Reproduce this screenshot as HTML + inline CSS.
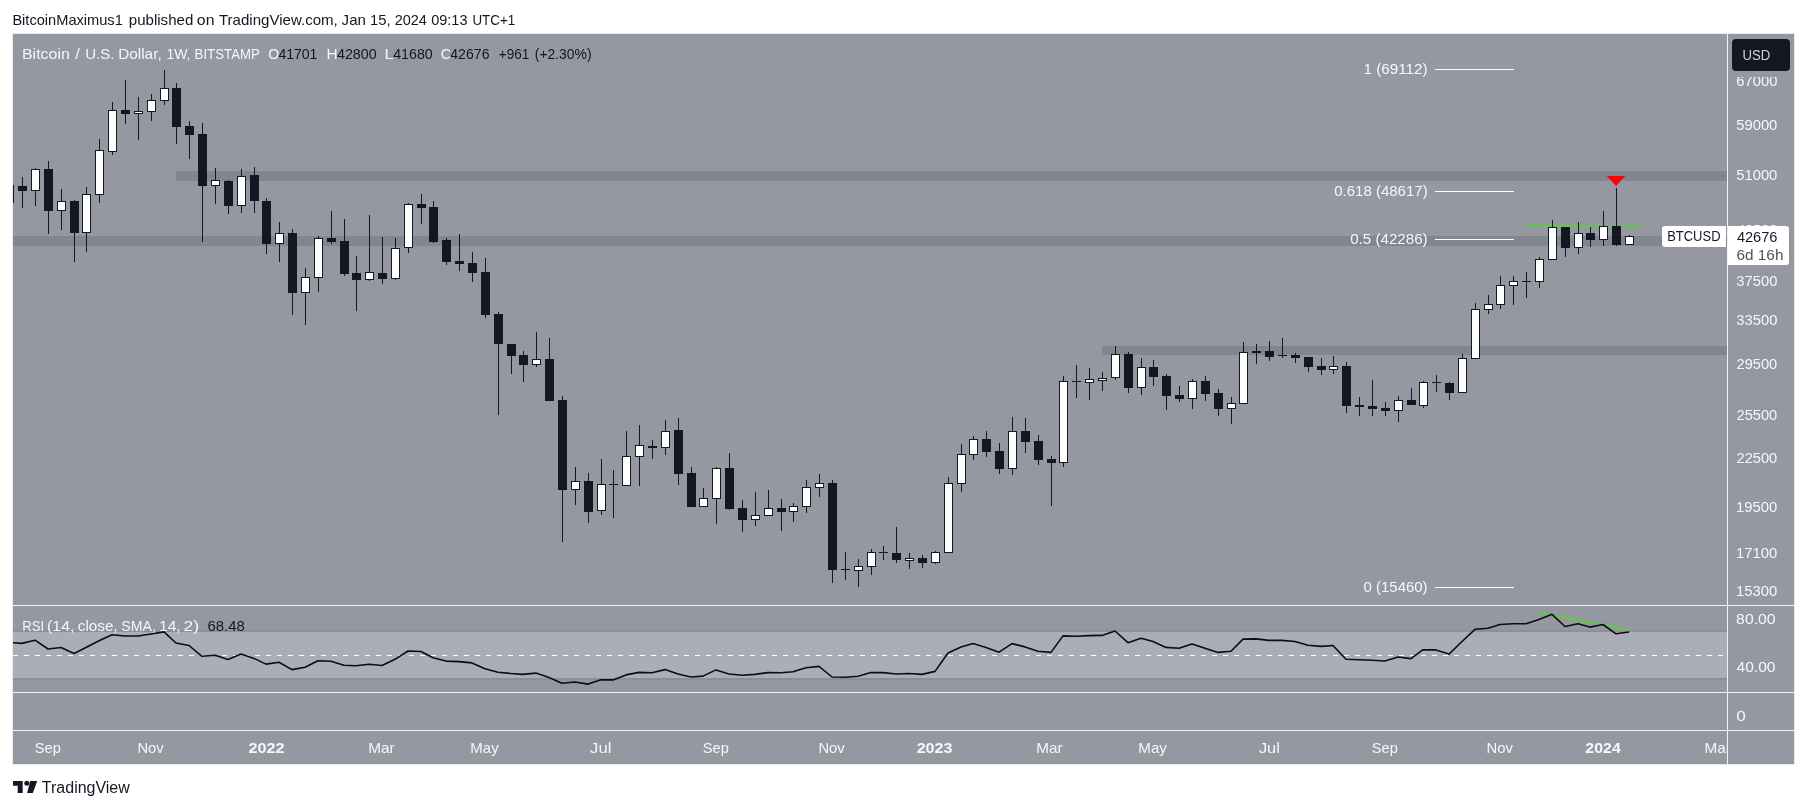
<!DOCTYPE html>
<html><head><meta charset="utf-8">
<style>
html,body{margin:0;padding:0;background:#fff;width:1807px;height:809px;overflow:hidden;font-family:"Liberation Sans",sans-serif;}
#chart{position:absolute;left:13px;top:34px;width:1781px;height:730px;background:#9598a1;overflow:hidden;box-shadow:0 0 0 1px #e9ebf0;}
.sep{position:absolute;background:#f0f3fa;}
svg text{font-family:"Liberation Sans",sans-serif;}
</style></head><body>
<div id="chart">
<svg width="1714" height="571" style="position:absolute;left:0;top:0" shape-rendering="crispEdges">
<rect x="163.00" y="137.00" width="1551.00" height="10.00" fill="#82868f" />
<rect x="0.00" y="202.00" width="1714.00" height="10.00" fill="#82868f" />
<rect x="1089.00" y="312.00" width="625.00" height="9.00" fill="#82868f" />
<line x1="1513" y1="191.4" x2="1629" y2="193.2" stroke="#4ade1e" stroke-width="1.5" shape-rendering="auto"/>
<rect x="1422.00" y="35.00" width="79.00" height="1.00" fill="#ffffff" />
<rect x="1422.00" y="157.00" width="79.00" height="1.00" fill="#ffffff" />
<rect x="1422.00" y="205.00" width="79.00" height="1.00" fill="#ffffff" />
<rect x="1422.00" y="553.00" width="79.00" height="1.00" fill="#ffffff" />
<rect x="-4.00" y="151.00" width="1.00" height="18.00" fill="#131722" />
<rect x="-8.00" y="151.00" width="9.00" height="18.00" fill="#131722" />
<rect x="9.00" y="143.00" width="1.00" height="31.00" fill="#131722" />
<rect x="5.00" y="152.00" width="9.00" height="5.00" fill="#131722" />
<rect x="22.00" y="134.00" width="1.00" height="38.00" fill="#131722" />
<rect x="18.00" y="135.00" width="9.00" height="22.00" fill="#131722" />
<rect x="19.00" y="136.00" width="7.00" height="20.00" fill="#ffffff" />
<rect x="35.00" y="127.00" width="1.00" height="73.00" fill="#131722" />
<rect x="31.00" y="135.00" width="9.00" height="42.00" fill="#131722" />
<rect x="48.00" y="155.00" width="1.00" height="41.00" fill="#131722" />
<rect x="44.00" y="167.00" width="9.00" height="10.00" fill="#131722" />
<rect x="45.00" y="168.00" width="7.00" height="8.00" fill="#ffffff" />
<rect x="61.00" y="166.00" width="1.00" height="62.00" fill="#131722" />
<rect x="57.00" y="167.00" width="9.00" height="32.00" fill="#131722" />
<rect x="73.00" y="153.00" width="1.00" height="65.00" fill="#131722" />
<rect x="69.00" y="160.00" width="9.00" height="39.00" fill="#131722" />
<rect x="70.00" y="161.00" width="7.00" height="37.00" fill="#ffffff" />
<rect x="86.00" y="105.00" width="1.00" height="64.00" fill="#131722" />
<rect x="82.00" y="116.00" width="9.00" height="45.00" fill="#131722" />
<rect x="83.00" y="117.00" width="7.00" height="43.00" fill="#ffffff" />
<rect x="99.00" y="68.00" width="1.00" height="53.00" fill="#131722" />
<rect x="95.00" y="76.00" width="9.00" height="42.00" fill="#131722" />
<rect x="96.00" y="77.00" width="7.00" height="40.00" fill="#ffffff" />
<rect x="112.00" y="46.00" width="1.00" height="44.00" fill="#131722" />
<rect x="108.00" y="76.00" width="9.00" height="4.00" fill="#131722" />
<rect x="125.00" y="63.00" width="1.00" height="43.00" fill="#131722" />
<rect x="121.00" y="77.00" width="9.00" height="3.00" fill="#131722" />
<rect x="122.00" y="78.00" width="7.00" height="1.00" fill="#ffffff" />
<rect x="138.00" y="60.00" width="1.00" height="27.00" fill="#131722" />
<rect x="134.00" y="66.00" width="9.00" height="12.00" fill="#131722" />
<rect x="135.00" y="67.00" width="7.00" height="10.00" fill="#ffffff" />
<rect x="151.00" y="36.00" width="1.00" height="35.00" fill="#131722" />
<rect x="147.00" y="54.00" width="9.00" height="13.00" fill="#131722" />
<rect x="148.00" y="55.00" width="7.00" height="11.00" fill="#ffffff" />
<rect x="163.00" y="49.00" width="1.00" height="61.00" fill="#131722" />
<rect x="159.00" y="54.00" width="9.00" height="39.00" fill="#131722" />
<rect x="176.00" y="87.00" width="1.00" height="38.00" fill="#131722" />
<rect x="172.00" y="92.00" width="9.00" height="9.00" fill="#131722" />
<rect x="189.00" y="89.00" width="1.00" height="119.00" fill="#131722" />
<rect x="185.00" y="100.00" width="9.00" height="52.00" fill="#131722" />
<rect x="202.00" y="134.00" width="1.00" height="36.00" fill="#131722" />
<rect x="198.00" y="146.00" width="9.00" height="6.00" fill="#131722" />
<rect x="199.00" y="147.00" width="7.00" height="4.00" fill="#ffffff" />
<rect x="215.00" y="146.00" width="1.00" height="34.00" fill="#131722" />
<rect x="211.00" y="147.00" width="9.00" height="25.00" fill="#131722" />
<rect x="228.00" y="135.00" width="1.00" height="44.00" fill="#131722" />
<rect x="224.00" y="142.00" width="9.00" height="30.00" fill="#131722" />
<rect x="225.00" y="143.00" width="7.00" height="28.00" fill="#ffffff" />
<rect x="241.00" y="133.00" width="1.00" height="46.00" fill="#131722" />
<rect x="237.00" y="141.00" width="9.00" height="26.00" fill="#131722" />
<rect x="253.00" y="164.00" width="1.00" height="56.00" fill="#131722" />
<rect x="249.00" y="167.00" width="9.00" height="43.00" fill="#131722" />
<rect x="266.00" y="188.00" width="1.00" height="40.00" fill="#131722" />
<rect x="262.00" y="199.00" width="9.00" height="11.00" fill="#131722" />
<rect x="263.00" y="200.00" width="7.00" height="9.00" fill="#ffffff" />
<rect x="279.00" y="195.00" width="1.00" height="86.00" fill="#131722" />
<rect x="275.00" y="199.00" width="9.00" height="60.00" fill="#131722" />
<rect x="292.00" y="234.00" width="1.00" height="57.00" fill="#131722" />
<rect x="288.00" y="243.00" width="9.00" height="16.00" fill="#131722" />
<rect x="289.00" y="244.00" width="7.00" height="14.00" fill="#ffffff" />
<rect x="305.00" y="202.00" width="1.00" height="56.00" fill="#131722" />
<rect x="301.00" y="204.00" width="9.00" height="40.00" fill="#131722" />
<rect x="302.00" y="205.00" width="7.00" height="38.00" fill="#ffffff" />
<rect x="318.00" y="177.00" width="1.00" height="33.00" fill="#131722" />
<rect x="314.00" y="204.00" width="9.00" height="4.00" fill="#131722" />
<rect x="331.00" y="185.00" width="1.00" height="57.00" fill="#131722" />
<rect x="327.00" y="207.00" width="9.00" height="33.00" fill="#131722" />
<rect x="343.00" y="222.00" width="1.00" height="55.00" fill="#131722" />
<rect x="339.00" y="239.00" width="9.00" height="7.00" fill="#131722" />
<rect x="356.00" y="181.00" width="1.00" height="66.00" fill="#131722" />
<rect x="352.00" y="238.00" width="9.00" height="8.00" fill="#131722" />
<rect x="353.00" y="239.00" width="7.00" height="6.00" fill="#ffffff" />
<rect x="369.00" y="203.00" width="1.00" height="47.00" fill="#131722" />
<rect x="365.00" y="239.00" width="9.00" height="6.00" fill="#131722" />
<rect x="382.00" y="204.00" width="1.00" height="42.00" fill="#131722" />
<rect x="378.00" y="214.00" width="9.00" height="31.00" fill="#131722" />
<rect x="379.00" y="215.00" width="7.00" height="29.00" fill="#ffffff" />
<rect x="395.00" y="169.00" width="1.00" height="50.00" fill="#131722" />
<rect x="391.00" y="170.00" width="9.00" height="44.00" fill="#131722" />
<rect x="392.00" y="171.00" width="7.00" height="42.00" fill="#ffffff" />
<rect x="408.00" y="160.00" width="1.00" height="30.00" fill="#131722" />
<rect x="404.00" y="170.00" width="9.00" height="4.00" fill="#131722" />
<rect x="420.00" y="167.00" width="1.00" height="42.00" fill="#131722" />
<rect x="416.00" y="173.00" width="9.00" height="35.00" fill="#131722" />
<rect x="433.00" y="204.00" width="1.00" height="27.00" fill="#131722" />
<rect x="429.00" y="206.00" width="9.00" height="22.00" fill="#131722" />
<rect x="446.00" y="200.00" width="1.00" height="37.00" fill="#131722" />
<rect x="442.00" y="227.00" width="9.00" height="3.00" fill="#131722" />
<rect x="459.00" y="218.00" width="1.00" height="30.00" fill="#131722" />
<rect x="455.00" y="229.00" width="9.00" height="10.00" fill="#131722" />
<rect x="472.00" y="224.00" width="1.00" height="60.00" fill="#131722" />
<rect x="468.00" y="238.00" width="9.00" height="43.00" fill="#131722" />
<rect x="485.00" y="278.00" width="1.00" height="103.00" fill="#131722" />
<rect x="481.00" y="280.00" width="9.00" height="30.00" fill="#131722" />
<rect x="498.00" y="310.00" width="1.00" height="30.00" fill="#131722" />
<rect x="494.00" y="310.00" width="9.00" height="12.00" fill="#131722" />
<rect x="510.00" y="317.00" width="1.00" height="31.00" fill="#131722" />
<rect x="506.00" y="321.00" width="9.00" height="10.00" fill="#131722" />
<rect x="523.00" y="298.00" width="1.00" height="35.00" fill="#131722" />
<rect x="519.00" y="325.00" width="9.00" height="6.00" fill="#131722" />
<rect x="520.00" y="326.00" width="7.00" height="4.00" fill="#ffffff" />
<rect x="536.00" y="304.00" width="1.00" height="63.00" fill="#131722" />
<rect x="532.00" y="325.00" width="9.00" height="42.00" fill="#131722" />
<rect x="549.00" y="362.00" width="1.00" height="146.00" fill="#131722" />
<rect x="545.00" y="366.00" width="9.00" height="90.00" fill="#131722" />
<rect x="562.00" y="433.00" width="1.00" height="38.00" fill="#131722" />
<rect x="558.00" y="447.00" width="9.00" height="9.00" fill="#131722" />
<rect x="559.00" y="448.00" width="7.00" height="7.00" fill="#ffffff" />
<rect x="575.00" y="439.00" width="1.00" height="50.00" fill="#131722" />
<rect x="571.00" y="447.00" width="9.00" height="31.00" fill="#131722" />
<rect x="588.00" y="425.00" width="1.00" height="56.00" fill="#131722" />
<rect x="584.00" y="450.00" width="9.00" height="27.00" fill="#131722" />
<rect x="585.00" y="451.00" width="7.00" height="25.00" fill="#ffffff" />
<rect x="600.00" y="436.00" width="1.00" height="48.00" fill="#131722" />
<rect x="596.00" y="450.00" width="9.00" height="1.00" fill="#131722" />
<rect x="613.00" y="397.00" width="1.00" height="55.00" fill="#131722" />
<rect x="609.00" y="422.00" width="9.00" height="30.00" fill="#131722" />
<rect x="610.00" y="423.00" width="7.00" height="28.00" fill="#ffffff" />
<rect x="626.00" y="391.00" width="1.00" height="61.00" fill="#131722" />
<rect x="622.00" y="411.00" width="9.00" height="12.00" fill="#131722" />
<rect x="623.00" y="412.00" width="7.00" height="10.00" fill="#ffffff" />
<rect x="639.00" y="406.00" width="1.00" height="19.00" fill="#131722" />
<rect x="635.00" y="412.00" width="9.00" height="2.00" fill="#131722" />
<rect x="652.00" y="386.00" width="1.00" height="35.00" fill="#131722" />
<rect x="648.00" y="397.00" width="9.00" height="17.00" fill="#131722" />
<rect x="649.00" y="398.00" width="7.00" height="15.00" fill="#ffffff" />
<rect x="665.00" y="384.00" width="1.00" height="67.00" fill="#131722" />
<rect x="661.00" y="396.00" width="9.00" height="44.00" fill="#131722" />
<rect x="678.00" y="433.00" width="1.00" height="40.00" fill="#131722" />
<rect x="674.00" y="439.00" width="9.00" height="34.00" fill="#131722" />
<rect x="690.00" y="454.00" width="1.00" height="19.00" fill="#131722" />
<rect x="686.00" y="464.00" width="9.00" height="9.00" fill="#131722" />
<rect x="687.00" y="465.00" width="7.00" height="7.00" fill="#ffffff" />
<rect x="703.00" y="433.00" width="1.00" height="57.00" fill="#131722" />
<rect x="699.00" y="434.00" width="9.00" height="31.00" fill="#131722" />
<rect x="700.00" y="435.00" width="7.00" height="29.00" fill="#ffffff" />
<rect x="716.00" y="419.00" width="1.00" height="57.00" fill="#131722" />
<rect x="712.00" y="434.00" width="9.00" height="41.00" fill="#131722" />
<rect x="729.00" y="466.00" width="1.00" height="32.00" fill="#131722" />
<rect x="725.00" y="474.00" width="9.00" height="12.00" fill="#131722" />
<rect x="742.00" y="458.00" width="1.00" height="34.00" fill="#131722" />
<rect x="738.00" y="481.00" width="9.00" height="5.00" fill="#131722" />
<rect x="739.00" y="482.00" width="7.00" height="3.00" fill="#ffffff" />
<rect x="755.00" y="456.00" width="1.00" height="26.00" fill="#131722" />
<rect x="751.00" y="474.00" width="9.00" height="8.00" fill="#131722" />
<rect x="752.00" y="475.00" width="7.00" height="6.00" fill="#ffffff" />
<rect x="768.00" y="465.00" width="1.00" height="32.00" fill="#131722" />
<rect x="764.00" y="474.00" width="9.00" height="4.00" fill="#131722" />
<rect x="780.00" y="469.00" width="1.00" height="19.00" fill="#131722" />
<rect x="776.00" y="472.00" width="9.00" height="6.00" fill="#131722" />
<rect x="777.00" y="473.00" width="7.00" height="4.00" fill="#ffffff" />
<rect x="793.00" y="446.00" width="1.00" height="33.00" fill="#131722" />
<rect x="789.00" y="453.00" width="9.00" height="20.00" fill="#131722" />
<rect x="790.00" y="454.00" width="7.00" height="18.00" fill="#ffffff" />
<rect x="806.00" y="440.00" width="1.00" height="23.00" fill="#131722" />
<rect x="802.00" y="449.00" width="9.00" height="5.00" fill="#131722" />
<rect x="803.00" y="450.00" width="7.00" height="3.00" fill="#ffffff" />
<rect x="819.00" y="446.00" width="1.00" height="103.00" fill="#131722" />
<rect x="815.00" y="449.00" width="9.00" height="87.00" fill="#131722" />
<rect x="832.00" y="518.00" width="1.00" height="28.00" fill="#131722" />
<rect x="828.00" y="535.00" width="9.00" height="1.00" fill="#131722" />
<rect x="845.00" y="525.00" width="1.00" height="28.00" fill="#131722" />
<rect x="841.00" y="532.00" width="9.00" height="5.00" fill="#131722" />
<rect x="842.00" y="533.00" width="7.00" height="3.00" fill="#ffffff" />
<rect x="858.00" y="515.00" width="1.00" height="26.00" fill="#131722" />
<rect x="854.00" y="518.00" width="9.00" height="15.00" fill="#131722" />
<rect x="855.00" y="519.00" width="7.00" height="13.00" fill="#ffffff" />
<rect x="870.00" y="512.00" width="1.00" height="14.00" fill="#131722" />
<rect x="866.00" y="518.00" width="9.00" height="1.00" fill="#131722" />
<rect x="883.00" y="493.00" width="1.00" height="36.00" fill="#131722" />
<rect x="879.00" y="519.00" width="9.00" height="7.00" fill="#131722" />
<rect x="896.00" y="519.00" width="1.00" height="16.00" fill="#131722" />
<rect x="892.00" y="524.00" width="9.00" height="3.00" fill="#131722" />
<rect x="893.00" y="525.00" width="7.00" height="1.00" fill="#ffffff" />
<rect x="909.00" y="521.00" width="1.00" height="13.00" fill="#131722" />
<rect x="905.00" y="524.00" width="9.00" height="5.00" fill="#131722" />
<rect x="922.00" y="517.00" width="1.00" height="13.00" fill="#131722" />
<rect x="918.00" y="518.00" width="9.00" height="11.00" fill="#131722" />
<rect x="919.00" y="519.00" width="7.00" height="9.00" fill="#ffffff" />
<rect x="935.00" y="443.00" width="1.00" height="76.00" fill="#131722" />
<rect x="931.00" y="449.00" width="9.00" height="70.00" fill="#131722" />
<rect x="932.00" y="450.00" width="7.00" height="68.00" fill="#ffffff" />
<rect x="948.00" y="410.00" width="1.00" height="48.00" fill="#131722" />
<rect x="944.00" y="420.00" width="9.00" height="30.00" fill="#131722" />
<rect x="945.00" y="421.00" width="7.00" height="28.00" fill="#ffffff" />
<rect x="960.00" y="402.00" width="1.00" height="24.00" fill="#131722" />
<rect x="956.00" y="405.00" width="9.00" height="16.00" fill="#131722" />
<rect x="957.00" y="406.00" width="7.00" height="14.00" fill="#ffffff" />
<rect x="973.00" y="397.00" width="1.00" height="26.00" fill="#131722" />
<rect x="969.00" y="405.00" width="9.00" height="13.00" fill="#131722" />
<rect x="986.00" y="409.00" width="1.00" height="31.00" fill="#131722" />
<rect x="982.00" y="417.00" width="9.00" height="18.00" fill="#131722" />
<rect x="999.00" y="383.00" width="1.00" height="58.00" fill="#131722" />
<rect x="995.00" y="397.00" width="9.00" height="38.00" fill="#131722" />
<rect x="996.00" y="398.00" width="7.00" height="36.00" fill="#ffffff" />
<rect x="1012.00" y="384.00" width="1.00" height="35.00" fill="#131722" />
<rect x="1008.00" y="397.00" width="9.00" height="11.00" fill="#131722" />
<rect x="1025.00" y="401.00" width="1.00" height="30.00" fill="#131722" />
<rect x="1021.00" y="407.00" width="9.00" height="19.00" fill="#131722" />
<rect x="1038.00" y="422.00" width="1.00" height="50.00" fill="#131722" />
<rect x="1034.00" y="425.00" width="9.00" height="4.00" fill="#131722" />
<rect x="1050.00" y="342.00" width="1.00" height="91.00" fill="#131722" />
<rect x="1046.00" y="347.00" width="9.00" height="82.00" fill="#131722" />
<rect x="1047.00" y="348.00" width="7.00" height="80.00" fill="#ffffff" />
<rect x="1063.00" y="331.00" width="1.00" height="33.00" fill="#131722" />
<rect x="1059.00" y="347.00" width="9.00" height="1.00" fill="#131722" />
<rect x="1076.00" y="334.00" width="1.00" height="32.00" fill="#131722" />
<rect x="1072.00" y="345.00" width="9.00" height="4.00" fill="#131722" />
<rect x="1073.00" y="346.00" width="7.00" height="2.00" fill="#ffffff" />
<rect x="1089.00" y="338.00" width="1.00" height="19.00" fill="#131722" />
<rect x="1085.00" y="344.00" width="9.00" height="3.00" fill="#131722" />
<rect x="1086.00" y="345.00" width="7.00" height="1.00" fill="#ffffff" />
<rect x="1102.00" y="312.00" width="1.00" height="34.00" fill="#131722" />
<rect x="1098.00" y="320.00" width="9.00" height="24.00" fill="#131722" />
<rect x="1099.00" y="321.00" width="7.00" height="22.00" fill="#ffffff" />
<rect x="1115.00" y="318.00" width="1.00" height="41.00" fill="#131722" />
<rect x="1111.00" y="320.00" width="9.00" height="34.00" fill="#131722" />
<rect x="1128.00" y="324.00" width="1.00" height="37.00" fill="#131722" />
<rect x="1124.00" y="333.00" width="9.00" height="21.00" fill="#131722" />
<rect x="1125.00" y="334.00" width="7.00" height="19.00" fill="#ffffff" />
<rect x="1140.00" y="326.00" width="1.00" height="26.00" fill="#131722" />
<rect x="1136.00" y="333.00" width="9.00" height="10.00" fill="#131722" />
<rect x="1153.00" y="340.00" width="1.00" height="36.00" fill="#131722" />
<rect x="1149.00" y="342.00" width="9.00" height="20.00" fill="#131722" />
<rect x="1166.00" y="352.00" width="1.00" height="16.00" fill="#131722" />
<rect x="1162.00" y="361.00" width="9.00" height="4.00" fill="#131722" />
<rect x="1179.00" y="345.00" width="1.00" height="30.00" fill="#131722" />
<rect x="1175.00" y="347.00" width="9.00" height="18.00" fill="#131722" />
<rect x="1176.00" y="348.00" width="7.00" height="16.00" fill="#ffffff" />
<rect x="1192.00" y="342.00" width="1.00" height="25.00" fill="#131722" />
<rect x="1188.00" y="347.00" width="9.00" height="13.00" fill="#131722" />
<rect x="1205.00" y="355.00" width="1.00" height="27.00" fill="#131722" />
<rect x="1201.00" y="359.00" width="9.00" height="16.00" fill="#131722" />
<rect x="1218.00" y="363.00" width="1.00" height="27.00" fill="#131722" />
<rect x="1214.00" y="369.00" width="9.00" height="6.00" fill="#131722" />
<rect x="1215.00" y="370.00" width="7.00" height="4.00" fill="#ffffff" />
<rect x="1230.00" y="308.00" width="1.00" height="62.00" fill="#131722" />
<rect x="1226.00" y="318.00" width="9.00" height="52.00" fill="#131722" />
<rect x="1227.00" y="319.00" width="7.00" height="50.00" fill="#ffffff" />
<rect x="1243.00" y="310.00" width="1.00" height="20.00" fill="#131722" />
<rect x="1239.00" y="317.00" width="9.00" height="2.00" fill="#131722" />
<rect x="1256.00" y="307.00" width="1.00" height="20.00" fill="#131722" />
<rect x="1252.00" y="317.00" width="9.00" height="6.00" fill="#131722" />
<rect x="1269.00" y="304.00" width="1.00" height="20.00" fill="#131722" />
<rect x="1265.00" y="321.00" width="9.00" height="1.00" fill="#131722" />
<rect x="1282.00" y="319.00" width="1.00" height="10.00" fill="#131722" />
<rect x="1278.00" y="321.00" width="9.00" height="3.00" fill="#131722" />
<rect x="1295.00" y="323.00" width="1.00" height="15.00" fill="#131722" />
<rect x="1291.00" y="323.00" width="9.00" height="10.00" fill="#131722" />
<rect x="1308.00" y="324.00" width="1.00" height="17.00" fill="#131722" />
<rect x="1304.00" y="332.00" width="9.00" height="4.00" fill="#131722" />
<rect x="1320.00" y="322.00" width="1.00" height="18.00" fill="#131722" />
<rect x="1316.00" y="332.00" width="9.00" height="4.00" fill="#131722" />
<rect x="1317.00" y="333.00" width="7.00" height="2.00" fill="#ffffff" />
<rect x="1333.00" y="328.00" width="1.00" height="51.00" fill="#131722" />
<rect x="1329.00" y="332.00" width="9.00" height="40.00" fill="#131722" />
<rect x="1346.00" y="363.00" width="1.00" height="19.00" fill="#131722" />
<rect x="1342.00" y="371.00" width="9.00" height="2.00" fill="#131722" />
<rect x="1359.00" y="346.00" width="1.00" height="36.00" fill="#131722" />
<rect x="1355.00" y="372.00" width="9.00" height="3.00" fill="#131722" />
<rect x="1372.00" y="368.00" width="1.00" height="14.00" fill="#131722" />
<rect x="1368.00" y="374.00" width="9.00" height="3.00" fill="#131722" />
<rect x="1385.00" y="362.00" width="1.00" height="26.00" fill="#131722" />
<rect x="1381.00" y="366.00" width="9.00" height="11.00" fill="#131722" />
<rect x="1382.00" y="367.00" width="7.00" height="9.00" fill="#ffffff" />
<rect x="1398.00" y="354.00" width="1.00" height="17.00" fill="#131722" />
<rect x="1394.00" y="366.00" width="9.00" height="5.00" fill="#131722" />
<rect x="1410.00" y="347.00" width="1.00" height="27.00" fill="#131722" />
<rect x="1406.00" y="348.00" width="9.00" height="24.00" fill="#131722" />
<rect x="1407.00" y="349.00" width="7.00" height="22.00" fill="#ffffff" />
<rect x="1423.00" y="341.00" width="1.00" height="17.00" fill="#131722" />
<rect x="1419.00" y="348.00" width="9.00" height="1.00" fill="#131722" />
<rect x="1436.00" y="348.00" width="1.00" height="18.00" fill="#131722" />
<rect x="1432.00" y="349.00" width="9.00" height="10.00" fill="#131722" />
<rect x="1449.00" y="320.00" width="1.00" height="39.00" fill="#131722" />
<rect x="1445.00" y="324.00" width="9.00" height="35.00" fill="#131722" />
<rect x="1446.00" y="325.00" width="7.00" height="33.00" fill="#ffffff" />
<rect x="1462.00" y="269.00" width="1.00" height="56.00" fill="#131722" />
<rect x="1458.00" y="275.00" width="9.00" height="50.00" fill="#131722" />
<rect x="1459.00" y="276.00" width="7.00" height="48.00" fill="#ffffff" />
<rect x="1475.00" y="261.00" width="1.00" height="19.00" fill="#131722" />
<rect x="1471.00" y="270.00" width="9.00" height="6.00" fill="#131722" />
<rect x="1472.00" y="271.00" width="7.00" height="4.00" fill="#ffffff" />
<rect x="1487.00" y="242.00" width="1.00" height="33.00" fill="#131722" />
<rect x="1483.00" y="251.00" width="9.00" height="20.00" fill="#131722" />
<rect x="1484.00" y="252.00" width="7.00" height="18.00" fill="#ffffff" />
<rect x="1500.00" y="242.00" width="1.00" height="29.00" fill="#131722" />
<rect x="1496.00" y="247.00" width="9.00" height="5.00" fill="#131722" />
<rect x="1497.00" y="248.00" width="7.00" height="3.00" fill="#ffffff" />
<rect x="1513.00" y="238.00" width="1.00" height="26.00" fill="#131722" />
<rect x="1509.00" y="247.00" width="9.00" height="1.00" fill="#131722" />
<rect x="1526.00" y="223.00" width="1.00" height="31.00" fill="#131722" />
<rect x="1522.00" y="225.00" width="9.00" height="23.00" fill="#131722" />
<rect x="1523.00" y="226.00" width="7.00" height="21.00" fill="#ffffff" />
<rect x="1539.00" y="186.00" width="1.00" height="40.00" fill="#131722" />
<rect x="1535.00" y="193.00" width="9.00" height="33.00" fill="#131722" />
<rect x="1536.00" y="194.00" width="7.00" height="31.00" fill="#ffffff" />
<rect x="1552.00" y="193.00" width="1.00" height="30.00" fill="#131722" />
<rect x="1548.00" y="193.00" width="9.00" height="21.00" fill="#131722" />
<rect x="1565.00" y="188.00" width="1.00" height="32.00" fill="#131722" />
<rect x="1561.00" y="199.00" width="9.00" height="15.00" fill="#131722" />
<rect x="1562.00" y="200.00" width="7.00" height="13.00" fill="#ffffff" />
<rect x="1577.00" y="193.00" width="1.00" height="20.00" fill="#131722" />
<rect x="1573.00" y="199.00" width="9.00" height="7.00" fill="#131722" />
<rect x="1590.00" y="177.00" width="1.00" height="35.00" fill="#131722" />
<rect x="1586.00" y="192.00" width="9.00" height="14.00" fill="#131722" />
<rect x="1587.00" y="193.00" width="7.00" height="12.00" fill="#ffffff" />
<rect x="1603.00" y="154.00" width="1.00" height="58.00" fill="#131722" />
<rect x="1599.00" y="192.00" width="9.00" height="19.00" fill="#131722" />
<rect x="1616.00" y="201.00" width="1.00" height="10.00" fill="#131722" />
<rect x="1612.00" y="202.00" width="9.00" height="9.00" fill="#131722" />
<rect x="1613.00" y="203.00" width="7.00" height="7.00" fill="#ffffff" />
<polygon points="1593.9,141.9 1612.2,141.9 1603.1,152" fill="#ff0000" shape-rendering="auto"/>
</svg>
<div class="sep" style="left:1714px;top:0;width:1px;height:730px"></div>
<div class="sep" style="left:0;top:571px;width:1781px;height:1px"></div>
<div class="sep" style="left:0;top:658px;width:1781px;height:1px"></div>
<div class="sep" style="left:0;top:696px;width:1781px;height:1px"></div>
<svg width="1714" height="86" style="position:absolute;left:0;top:572px">
<rect x="0" y="24" width="1714" height="50" fill="#abaeb6" shape-rendering="crispEdges"/><rect x="0" y="24" width="1714" height="2" fill="#8d9099" shape-rendering="crispEdges"/><rect x="0" y="72" width="1714" height="2" fill="#8c8f98" shape-rendering="crispEdges"/>
<line x1="0" y1="49.5" x2="1714" y2="49.5" stroke="#ffffff" stroke-width="1" stroke-dasharray="5 6" shape-rendering="crispEdges"/>
<line x1="1526" y1="6.7000000000000455" x2="1616" y2="24" stroke="#4ade1e" stroke-width="1.4"/>
<polyline points="-4.00,36.50 9.00,37.40 22.00,34.20 35.00,43.00 48.00,41.50 61.00,47.50 73.00,41.50 86.00,34.70 99.00,28.70 112.00,30.00 125.00,30.00 138.00,28.00 151.00,25.90 163.00,37.00 176.00,39.50 189.00,50.30 202.00,49.30 215.00,53.50 228.00,48.00 241.00,52.40 253.00,58.10 266.00,56.30 279.00,63.60 292.00,61.30 305.00,54.70 318.00,55.30 331.00,59.20 343.00,59.70 356.00,58.30 369.00,59.50 382.00,53.30 395.00,45.00 408.00,45.50 420.00,51.70 433.00,55.10 446.00,55.60 459.00,56.90 472.00,62.70 485.00,66.20 498.00,67.50 510.00,68.40 523.00,67.10 536.00,71.60 549.00,77.20 562.00,76.00 575.00,78.10 588.00,73.70 600.00,73.90 613.00,68.90 626.00,66.40 639.00,66.80 652.00,63.60 665.00,68.00 678.00,71.00 690.00,70.10 703.00,63.90 716.00,68.00 729.00,69.30 742.00,68.40 755.00,66.60 768.00,66.80 780.00,65.70 793.00,61.80 806.00,60.40 819.00,71.00 832.00,71.20 845.00,70.30 858.00,66.60 870.00,66.60 883.00,68.00 896.00,67.50 909.00,68.40 922.00,65.40 935.00,47.00 948.00,41.10 960.00,37.60 973.00,41.40 986.00,46.20 999.00,37.60 1012.00,40.90 1025.00,45.30 1038.00,46.40 1050.00,29.90 1063.00,30.30 1076.00,29.60 1089.00,29.40 1102.00,25.00 1115.00,36.70 1128.00,32.20 1140.00,35.60 1153.00,41.40 1166.00,42.30 1179.00,37.90 1192.00,42.30 1205.00,46.40 1218.00,45.30 1230.00,33.10 1243.00,32.90 1256.00,34.40 1269.00,34.40 1282.00,35.50 1295.00,39.30 1308.00,40.40 1320.00,39.50 1333.00,53.20 1346.00,53.70 1359.00,54.30 1372.00,55.00 1385.00,51.00 1398.00,52.60 1410.00,43.70 1423.00,43.90 1436.00,48.10 1449.00,35.50 1462.00,23.30 1475.00,22.20 1487.00,18.50 1500.00,17.80 1513.00,17.80 1526.00,13.40 1539.00,8.30 1552.00,20.50 1565.00,17.80 1577.00,21.10 1590.00,18.50 1603.00,27.80 1616.00,26.00" fill="none" stroke="#0b0d12" stroke-width="1.6" stroke-linejoin="round"/>
</svg>
</div>
<svg width="1807" height="809" style="position:absolute;left:0;top:0;will-change:transform">
<defs><clipPath id="cl"><rect x="13" y="34" width="1714" height="730"/></clipPath><clipPath id="c67"><rect x="1728" y="77" width="66" height="20"/></clipPath></defs>
<text x="12.38" y="25.00" font-size="14.8" fill="#131722" font-weight="normal" textLength="110.39" lengthAdjust="spacingAndGlyphs" >BitcoinMaximus1</text>
<text x="128.79" y="25.00" font-size="14.8" fill="#131722" font-weight="normal" textLength="64.49" lengthAdjust="spacingAndGlyphs" >published</text>
<text x="196.80" y="25.00" font-size="14.8" fill="#131722" font-weight="normal" textLength="17.68" lengthAdjust="spacingAndGlyphs" >on</text>
<text x="218.95" y="25.00" font-size="14.8" fill="#131722" font-weight="normal" textLength="118.84" lengthAdjust="spacingAndGlyphs" >TradingView.com,</text>
<text x="341.60" y="25.00" font-size="14.8" fill="#131722" font-weight="normal" textLength="24.36" lengthAdjust="spacingAndGlyphs" >Jan</text>
<text x="370.09" y="25.00" font-size="14.8" fill="#131722" font-weight="normal" textLength="20.55" lengthAdjust="spacingAndGlyphs" >15,</text>
<text x="394.71" y="25.00" font-size="14.8" fill="#131722" font-weight="normal" textLength="32.23" lengthAdjust="spacingAndGlyphs" >2024</text>
<text x="431.15" y="25.00" font-size="14.8" fill="#131722" font-weight="normal" textLength="36.36" lengthAdjust="spacingAndGlyphs" >09:13</text>
<text x="472.45" y="25.00" font-size="14.8" fill="#131722" font-weight="normal" textLength="42.71" lengthAdjust="spacingAndGlyphs" >UTC+1</text>
<text x="21.91" y="58.80" font-size="14.6" fill="#f6f7f9" font-weight="normal" textLength="48.03" lengthAdjust="spacingAndGlyphs" >Bitcoin</text>
<text x="75.33" y="58.80" font-size="14.6" fill="#f6f7f9" font-weight="normal" textLength="4.58" lengthAdjust="spacingAndGlyphs" >/</text>
<text x="85.20" y="58.80" font-size="14.6" fill="#f6f7f9" font-weight="normal" textLength="29.24" lengthAdjust="spacingAndGlyphs" >U.S.</text>
<text x="118.16" y="58.80" font-size="14.6" fill="#f6f7f9" font-weight="normal" textLength="43.52" lengthAdjust="spacingAndGlyphs" >Dollar,</text>
<text x="166.40" y="58.80" font-size="14.6" fill="#f6f7f9" font-weight="normal" textLength="24.12" lengthAdjust="spacingAndGlyphs" >1W,</text>
<text x="194.59" y="58.80" font-size="14.6" fill="#f6f7f9" font-weight="normal" textLength="65.26" lengthAdjust="spacingAndGlyphs" >BITSTAMP</text>
<text x="268.20" y="58.80" font-size="14.6" fill="#f6f7f9" font-weight="normal" textLength="10.88" lengthAdjust="spacingAndGlyphs" >O</text>
<text x="278.39" y="58.80" font-size="14.6" fill="#131722" font-weight="normal" textLength="39.03" lengthAdjust="spacingAndGlyphs" >41701</text>
<text x="326.52" y="58.80" font-size="14.6" fill="#f6f7f9" font-weight="normal" textLength="11.15" lengthAdjust="spacingAndGlyphs" >H</text>
<text x="336.91" y="58.80" font-size="14.6" fill="#131722" font-weight="normal" textLength="39.89" lengthAdjust="spacingAndGlyphs" >42800</text>
<text x="384.55" y="58.80" font-size="14.6" fill="#f6f7f9" font-weight="normal" textLength="9.25" lengthAdjust="spacingAndGlyphs" >L</text>
<text x="393.20" y="58.80" font-size="14.6" fill="#131722" font-weight="normal" textLength="39.60" lengthAdjust="spacingAndGlyphs" >41680</text>
<text x="440.81" y="58.80" font-size="14.6" fill="#f6f7f9" font-weight="normal" textLength="10.36" lengthAdjust="spacingAndGlyphs" >C</text>
<text x="450.21" y="58.80" font-size="14.6" fill="#131722" font-weight="normal" textLength="39.30" lengthAdjust="spacingAndGlyphs" >42676</text>
<text x="498.75" y="58.80" font-size="14.6" fill="#131722" font-weight="normal" textLength="30.56" lengthAdjust="spacingAndGlyphs" >+961</text>
<text x="534.80" y="58.80" font-size="14.6" fill="#131722" font-weight="normal" textLength="56.73" lengthAdjust="spacingAndGlyphs" >(+2.30%)</text>
<text x="1363.41" y="74.10" font-size="14.4" fill="#f6f7f9" font-weight="normal" textLength="64.31" lengthAdjust="spacingAndGlyphs" >1 (69112)</text>
<text x="1334.20" y="195.60" font-size="14.4" fill="#f6f7f9" font-weight="normal" textLength="93.46" lengthAdjust="spacingAndGlyphs" >0.618 (48617)</text>
<text x="1350.16" y="243.80" font-size="14.4" fill="#f6f7f9" font-weight="normal" textLength="77.49" lengthAdjust="spacingAndGlyphs" >0.5 (42286)</text>
<text x="1363.57" y="591.80" font-size="14.4" fill="#f6f7f9" font-weight="normal" textLength="64.01" lengthAdjust="spacingAndGlyphs" >0 (15460)</text>
<text x="22.13" y="631.00" font-size="14.6" fill="#f6f7f9" font-weight="normal" textLength="22.06" lengthAdjust="spacingAndGlyphs" >RSI</text>
<text x="47.05" y="631.00" font-size="14.6" fill="#f6f7f9" font-weight="normal" textLength="27.33" lengthAdjust="spacingAndGlyphs" >(14,</text>
<text x="77.77" y="631.00" font-size="14.6" fill="#f6f7f9" font-weight="normal" textLength="39.84" lengthAdjust="spacingAndGlyphs" >close,</text>
<text x="121.30" y="631.00" font-size="14.6" fill="#f6f7f9" font-weight="normal" textLength="34.53" lengthAdjust="spacingAndGlyphs" >SMA,</text>
<text x="158.99" y="631.00" font-size="14.6" fill="#f6f7f9" font-weight="normal" textLength="21.70" lengthAdjust="spacingAndGlyphs" >14,</text>
<text x="183.64" y="631.00" font-size="14.6" fill="#f6f7f9" font-weight="normal" textLength="15.60" lengthAdjust="spacingAndGlyphs" >2)</text>
<text x="207.50" y="631.00" font-size="14.6" fill="#131722" font-weight="normal" textLength="37.35" lengthAdjust="spacingAndGlyphs" >68.48</text>
<text x="41.87" y="792.90" font-size="15.8" fill="#131722" font-weight="normal" textLength="87.95" lengthAdjust="spacingAndGlyphs" >TradingView</text>
<text x="1736.35" y="85.90" font-size="14.4" fill="#f6f7f9" font-weight="normal" textLength="41.11" lengthAdjust="spacingAndGlyphs" clip-path="url(#c67)">67000</text>
<text x="1736.20" y="130.10" font-size="14.4" fill="#f6f7f9" font-weight="normal" textLength="41.17" lengthAdjust="spacingAndGlyphs" >59000</text>
<text x="1736.20" y="180.10" font-size="14.4" fill="#f6f7f9" font-weight="normal" textLength="41.17" lengthAdjust="spacingAndGlyphs" >51000</text>
<text x="1736.90" y="234.90" font-size="14.4" fill="#f6f7f9" font-weight="normal" textLength="40.43" lengthAdjust="spacingAndGlyphs" >43500</text>
<text x="1736.39" y="285.90" font-size="14.4" fill="#f6f7f9" font-weight="normal" textLength="41.05" lengthAdjust="spacingAndGlyphs" >37500</text>
<text x="1736.39" y="324.90" font-size="14.4" fill="#f6f7f9" font-weight="normal" textLength="41.05" lengthAdjust="spacingAndGlyphs" >33500</text>
<text x="1736.49" y="368.70" font-size="14.4" fill="#f6f7f9" font-weight="normal" textLength="40.76" lengthAdjust="spacingAndGlyphs" >29500</text>
<text x="1736.49" y="419.60" font-size="14.4" fill="#f6f7f9" font-weight="normal" textLength="40.76" lengthAdjust="spacingAndGlyphs" >25500</text>
<text x="1736.49" y="462.90" font-size="14.4" fill="#f6f7f9" font-weight="normal" textLength="40.76" lengthAdjust="spacingAndGlyphs" >22500</text>
<text x="1736.08" y="511.70" font-size="14.4" fill="#f6f7f9" font-weight="normal" textLength="41.23" lengthAdjust="spacingAndGlyphs" >19500</text>
<text x="1736.08" y="557.70" font-size="14.4" fill="#f6f7f9" font-weight="normal" textLength="41.23" lengthAdjust="spacingAndGlyphs" >17100</text>
<text x="1736.08" y="595.90" font-size="14.4" fill="#f6f7f9" font-weight="normal" textLength="41.23" lengthAdjust="spacingAndGlyphs" >15300</text>
<text x="1736.14" y="624.20" font-size="14.4" fill="#f6f7f9" font-weight="normal" textLength="39.42" lengthAdjust="spacingAndGlyphs" >80.00</text>
<text x="1736.59" y="671.80" font-size="14.4" fill="#f6f7f9" font-weight="normal" textLength="38.93" lengthAdjust="spacingAndGlyphs" >40.00</text>
<text x="1736.20" y="720.80" font-size="14.4" fill="#f6f7f9" font-weight="normal" textLength="9.60" lengthAdjust="spacingAndGlyphs" >0</text>
<text x="34.79" y="752.90" font-size="14.6" fill="#f6f7f9" font-weight="normal" textLength="26.01" lengthAdjust="spacingAndGlyphs" >Sep</text>
<text x="137.43" y="752.90" font-size="14.6" fill="#f6f7f9" font-weight="normal" textLength="26.35" lengthAdjust="spacingAndGlyphs" >Nov</text>
<text x="248.40" y="752.90" font-size="14.6" fill="#f6f7f9" font-weight="bold" textLength="36.02" lengthAdjust="spacingAndGlyphs" >2022</text>
<text x="368.16" y="752.90" font-size="14.6" fill="#f6f7f9" font-weight="normal" textLength="26.58" lengthAdjust="spacingAndGlyphs" >Mar</text>
<text x="470.30" y="752.90" font-size="14.6" fill="#f6f7f9" font-weight="normal" textLength="28.43" lengthAdjust="spacingAndGlyphs" >May</text>
<text x="590.14" y="752.90" font-size="14.6" fill="#f6f7f9" font-weight="normal" textLength="21.31" lengthAdjust="spacingAndGlyphs" >Jul</text>
<text x="702.79" y="752.90" font-size="14.6" fill="#f6f7f9" font-weight="normal" textLength="26.01" lengthAdjust="spacingAndGlyphs" >Sep</text>
<text x="818.43" y="752.90" font-size="14.6" fill="#f6f7f9" font-weight="normal" textLength="26.35" lengthAdjust="spacingAndGlyphs" >Nov</text>
<text x="916.67" y="752.90" font-size="14.6" fill="#f6f7f9" font-weight="bold" textLength="35.85" lengthAdjust="spacingAndGlyphs" >2023</text>
<text x="1036.22" y="752.90" font-size="14.6" fill="#f6f7f9" font-weight="normal" textLength="26.45" lengthAdjust="spacingAndGlyphs" >Mar</text>
<text x="1138.36" y="752.90" font-size="14.6" fill="#f6f7f9" font-weight="normal" textLength="28.52" lengthAdjust="spacingAndGlyphs" >May</text>
<text x="1258.91" y="752.90" font-size="14.6" fill="#f6f7f9" font-weight="normal" textLength="21.00" lengthAdjust="spacingAndGlyphs" >Jul</text>
<text x="1371.79" y="752.90" font-size="14.6" fill="#f6f7f9" font-weight="normal" textLength="26.01" lengthAdjust="spacingAndGlyphs" >Sep</text>
<text x="1486.45" y="752.90" font-size="14.6" fill="#f6f7f9" font-weight="normal" textLength="26.44" lengthAdjust="spacingAndGlyphs" >Nov</text>
<text x="1585.39" y="752.90" font-size="14.6" fill="#f6f7f9" font-weight="bold" textLength="35.40" lengthAdjust="spacingAndGlyphs" >2024</text>
<!-- BTCUSD label -->
<path d="M1665,226 H1726 V247 H1665 Q1662,247 1662,244 V229 Q1662,226 1665,226 Z" fill="#ffffff"/>
<!-- price label -->
<path d="M1728,226 H1786 Q1789,226 1789,229 V262 Q1789,265 1786,265 H1728 Z" fill="#ffffff"/>
<!-- USD badge -->
<rect x="1732" y="39" width="58" height="32" rx="4" fill="#131722"/>
<text x="1667.15" y="241.40" font-size="14.6" fill="#131722" font-weight="normal" textLength="53.37" lengthAdjust="spacingAndGlyphs" >BTCUSD</text>
<text x="1736.90" y="241.80" font-size="14.4" fill="#131722" font-weight="normal" textLength="40.56" lengthAdjust="spacingAndGlyphs" >42676</text>
<text x="1736.48" y="260.00" font-size="14.4" fill="#50535e" font-weight="normal" textLength="46.96" lengthAdjust="spacingAndGlyphs" >6d 16h</text>
<text x="1742.40" y="59.60" font-size="14.4" fill="#d1d4dc" font-weight="normal" textLength="27.80" lengthAdjust="spacingAndGlyphs" >USD</text>




<g clip-path="url(#cl)"><text x="1704.5" y="752.9" font-size="14.6" fill="#f6f7f9" textLength="26.45" lengthAdjust="spacingAndGlyphs">Mar</text></g>
<!-- footer logo -->
<path d="M13,781 H22.7 V793 H17.7 V785.7 H13 Z" fill="#131722"/>
<circle cx="26.8" cy="783.3" r="2.5" fill="#131722"/>
<path d="M30.2,781 H37.2 L32.8,793 H27.1 Z" fill="#131722"/>

</svg>
</body></html>
